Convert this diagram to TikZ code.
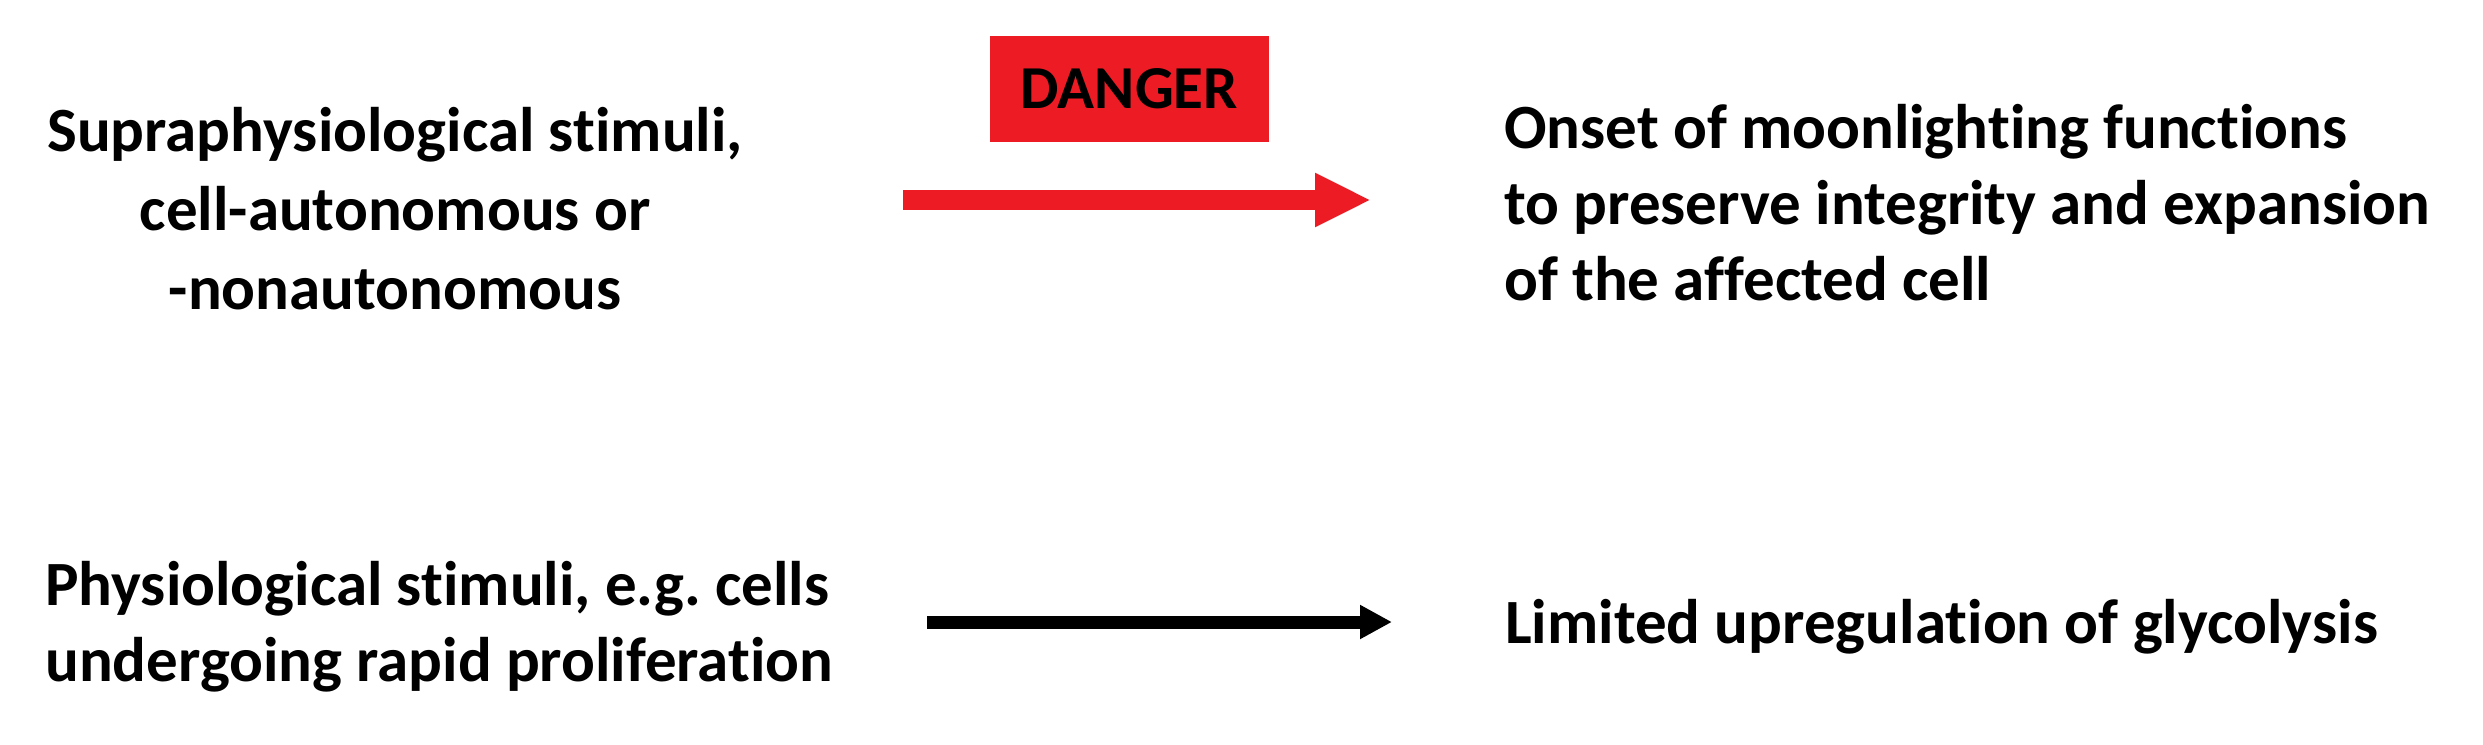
\documentclass[tikz,border=0pt]{standalone}
\usepackage{fontspec}
\setmainfont{Carlito}[Ligatures=NoCommon]
\usetikzlibrary{arrows.meta}
\definecolor{dred}{HTML}{ED1C24}
\begin{document}
\frenchspacing
\begin{tikzpicture}[x=1pt,y=-1pt,
  txt/.style={font=\bfseries\fontsize{63}{76}\selectfont, inner sep=0pt, text=black},
  widetxt/.style={txt, font=\bfseries\fontsize{63}{79}\selectfont},
  dangerbox/.style={fill=dred, draw=none, minimum width=279pt, minimum height=106pt, inner sep=0pt,
    font=\bfseries\fontsize{61}{70}\selectfont, text=black},
  redarrow/.style={draw=dred, line width=20pt, -{Triangle[length=56pt,width=50pt]}},
  blackarrow/.style={draw=black, line width=13pt, -{Triangle[length=32pt,width=32pt]}}]
\useasboundingbox[fill=white] (0,0) rectangle (2483,744);
\node[widetxt, align=center, anchor=base] (sup) at (395,309) {Supraphysiological stimuli,\\cell-autonomous or\\-nonautonomous};
\node[txt, align=left, anchor=base west] (onset) at (1504,300) {Onset of moonlighting functions\\to preserve integrity and expansion\\of the affected cell};
\node[txt, align=left, anchor=base west] (phys) at (45,681) {Physiological stimuli, e.g. cells\\undergoing rapid proliferation};
\node[txt, anchor=base west] (lim) at (1505,643) {Limited upregulation of glycolysis};
\node[dangerbox] (danger) at (1129.5,89) {DANGER};
\coordinate (r1) at (903,200);
\coordinate (r2) at (1371,200);
\coordinate (b1) at (927,622);
\coordinate (b2) at (1392,622);
\draw[redarrow] (r1) -- (r2);
\draw[blackarrow] (b1) -- (b2);
\end{tikzpicture}
\end{document}
